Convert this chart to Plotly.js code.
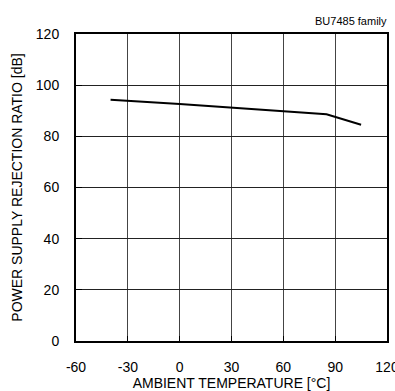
<!DOCTYPE html>
<html><head><meta charset="utf-8">
<script src="https://cdn.plot.ly/plotly-3.0.1.min.js"></script>
<style>body{margin:0;padding:0;background:#fff}#chart{width:395px;height:391px}</style>
</head><body><div id="chart"></div>
<script>
const temperature = [-40, 0, 85, 105];
const psrr = [94.3, 92.6, 88.6, 84.5];
const xTicks = [-60, -30, 0, 30, 60, 90, 120];
const yTicks = [0, 20, 40, 60, 80, 100, 120];

const font = {family: 'Liberation Sans, Arial, sans-serif', color: '#000'};

Plotly.newPlot('chart', [{
  x: temperature, y: psrr, type: 'scatter', mode: 'lines',
  line: {color: '#000', width: 2}, hoverinfo: 'skip'
}], {
  width: 395, height: 391,
  margin: {l: 76, r: 8, t: 34, b: 50},
  paper_bgcolor: '#fff', plot_bgcolor: '#fff',
  showlegend: false,
  font: Object.assign({size: 14}, font),
  xaxis: {
    range: [-60, 120], tickvals: xTicks, ticktext: xTicks.map(String),
    showgrid: true, gridcolor: '#444', gridwidth: 1,
    showline: true, linecolor: '#000', linewidth: 2, mirror: true,
    ticks: 'inside', ticklen: 5, tickcolor: '#000', tickwidth: 1,
    ticklabelstandoff: 12, ticklabeloverflow: 'allow', zeroline: false,
    tickfont: Object.assign({size: 14}, font),
    title: {text: 'AMBIENT TEMPERATURE [°C]', font: Object.assign({size: 14}, font), standoff: 4}
  },
  yaxis: {
    range: [0, 120], tickvals: yTicks, ticktext: yTicks.map(String),
    showgrid: true, gridcolor: '#222', gridwidth: 1,
    showline: true, linecolor: '#000', linewidth: 2, mirror: true,
    ticks: 'inside', ticklen: 6, tickcolor: '#000', tickwidth: 1,
    ticklabelstandoff: 12, zeroline: false,
    tickfont: Object.assign({size: 14}, font),
    title: {text: 'POWER SUPPLY REJECTION RATIO [dB]', font: Object.assign({size: 14}, font), standoff: 10}
  },
  annotations: [{
    text: 'BU7485 family', xref: 'paper', yref: 'paper', x: 1.005, y: 1,
    xanchor: 'right', yanchor: 'bottom', yshift: 5, showarrow: false,
    font: Object.assign({size: 11}, font)
  }]
}, {staticPlot: true});
</script></body></html>
